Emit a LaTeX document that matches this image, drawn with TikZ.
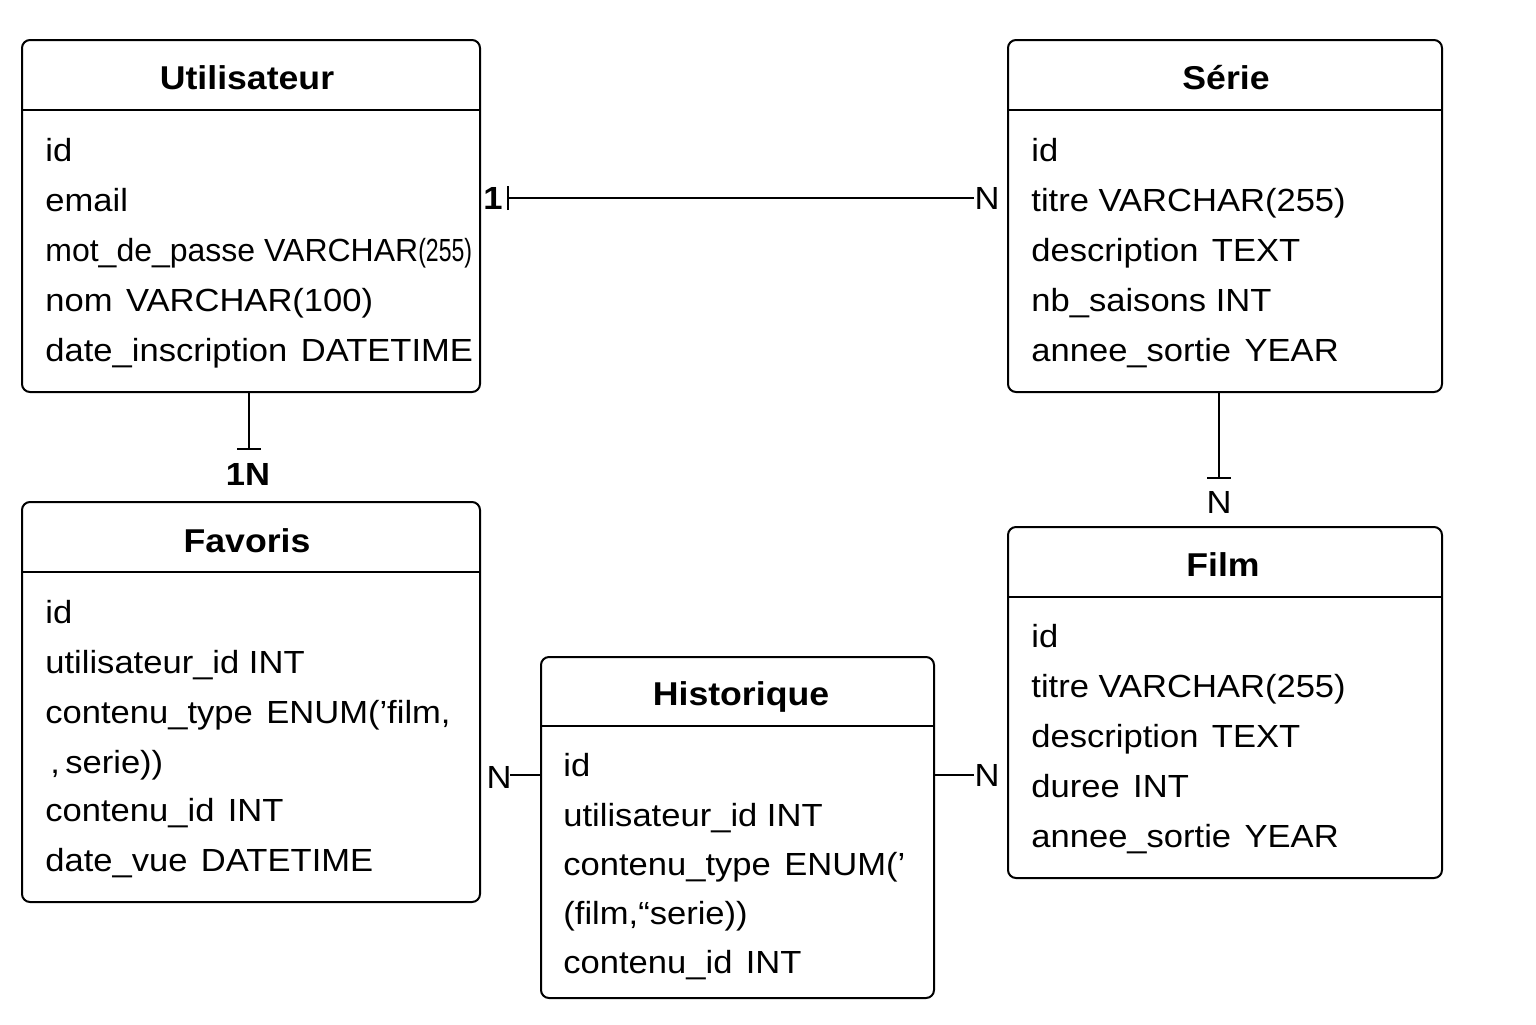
\documentclass[tikz,border=0pt]{standalone}
\usepackage{fontspec}
\usepackage{graphicx}
\setmainfont{Liberation Sans}[FakeStretch=1.08]
\newfontfamily\plainfont{Liberation Sans}
\newcommand{\gp}{\hspace{0.42em}}
\usetikzlibrary{fit}
\begin{document}
\begin{tikzpicture}[x=0.5pt,y=-0.5pt,
  tbl/.style={draw, line width=1pt, rounded corners=4pt, inner sep=0pt},
  sep/.style={line width=1pt},
  ttl/.style={font=\fontsize{16.5}{20}\selectfont\bfseries, inner sep=0pt, anchor=base},
  fld/.style={font=\fontsize{16}{19}\selectfont, anchor=base west, inner sep=0pt},
  card/.style={font=\fontsize{16}{19}\selectfont, inner sep=0pt, anchor=center},
  cardb/.style={card, font=\fontsize{16}{19}\selectfont\bfseries},
  conn/.style={line width=1pt},
  tick/.style={line width=1pt}
]
\useasboundingbox (0,0) rectangle (1536,1024);

% ---------- Utilisateur ----------
\node[tbl, fit={(22,40)(480,392)}] (util) {};
\draw[sep] (util.west |- 0,110) -- (util.east |- 0,110);
\node[ttl] (utilT) at (247,89) {Utilisateur};
\node[fld] (u1) at (45,161) {id};
\node[fld] (u2) at (45,211) {email};
\node[fld] (u3) at (45,261) {\plainfont mot\_de\_passe VARCHAR\scalebox{0.72}[1]{(255)}};
\node[fld] (u4) at (45,311) {nom\gp VARCHAR(100)};
\node[fld] (u5) at (45,361) {date\_inscription\gp DATETIME};

% ---------- Serie ----------
\node[tbl, fit={(1008,40)(1442,392)}] (serie) {};
\draw[sep] (serie.west |- 0,110) -- (serie.east |- 0,110);
\node[ttl] (serieT) at (1226,89) {Série};
\node[fld] (s1) at (1031,161) {id};
\node[fld] (s2) at (1031,211) {titre VARCHAR(255)};
\node[fld] (s3) at (1031,261) {description\gp TEXT};
\node[fld] (s4) at (1031,311) {nb\_saisons INT};
\node[fld] (s5) at (1031,361) {annee\_sortie\gp YEAR};

% ---------- Favoris ----------
\node[tbl, fit={(22,502)(480,902)}] (fav) {};
\draw[sep] (fav.west |- 0,572) -- (fav.east |- 0,572);
\node[ttl] (favT) at (247,552) {Favoris};
\node[fld] (f1) at (45,623) {id};
\node[fld] (f2) at (45,673) {utilisateur\_id INT};
\node[fld] (f3) at (45,723) {contenu\_type\gp ENUM(’film,};
\node[fld] (f4) at (50,773) {,\,serie))};
\node[fld] (f5) at (45,821) {contenu\_id\gp INT};
\node[fld] (f6) at (45,871) {date\_vue\gp DATETIME};

% ---------- Film ----------
\node[tbl, fit={(1008,527)(1442,878)}] (film) {};
\draw[sep] (film.west |- 0,597) -- (film.east |- 0,597);
\node[ttl] (filmT) at (1223,576) {Film};
\node[fld] (m1) at (1031,647) {id};
\node[fld] (m2) at (1031,697) {titre VARCHAR(255)};
\node[fld] (m3) at (1031,747) {description\gp TEXT};
\node[fld] (m4) at (1031,797) {duree\gp INT};
\node[fld] (m5) at (1031,847) {annee\_sortie\gp YEAR};

% ---------- Historique ----------
\node[tbl, fit={(541,657)(934,998)}] (hist) {};
\draw[sep] (hist.west |- 0,726) -- (hist.east |- 0,726);
\node[ttl] (histT) at (741,705) {Historique};
\node[fld] (h1) at (563,776) {id};
\node[fld] (h2) at (563,826) {utilisateur\_id INT};
\node[fld] (h3) at (563,875) {contenu\_type\gp ENUM(’};
\node[fld] (h4) at (563,924) {(film,“serie))};
\node[fld] (h5) at (563,973) {contenu\_id\gp INT};

% ---------- Connectors ----------
% Utilisateur -- Serie
\node[cardb] (c1a) at (493,198) {1};
\coordinate (t1) at (508,198);
\node[card] (c1b) at (987,198) {N};
\draw[conn] (t1) -- (c1b.west);
\draw[tick] ([yshift=-6pt]t1) -- ([yshift=6pt]t1);

% Utilisateur -- Favoris
\coordinate (t2) at (249,449);
\draw[conn] (util.south -| t2) -- (t2);
\draw[tick] ([xshift=-6pt]t2) -- ([xshift=6pt]t2);
\node[cardb] (c2) at (248,474) {1N};

% Serie -- Film
\coordinate (t3) at (1219,478);
\draw[conn] (serie.south -| t3) -- (t3);
\draw[tick] ([xshift=-6pt]t3) -- ([xshift=6pt]t3);
\node[card] (c3) at (1219,502) {N};

% Favoris -- Historique
\node[card] (c4) at (499,777) {N};
\coordinate (t4) at (510,775);
\draw[conn] (t4) -- (hist.west |- t4);

% Historique -- Film
\node[card] (c5) at (987,775) {N};
\draw[conn] (hist.east |- c5) -- (c5.west);
\end{tikzpicture}
\end{document}
